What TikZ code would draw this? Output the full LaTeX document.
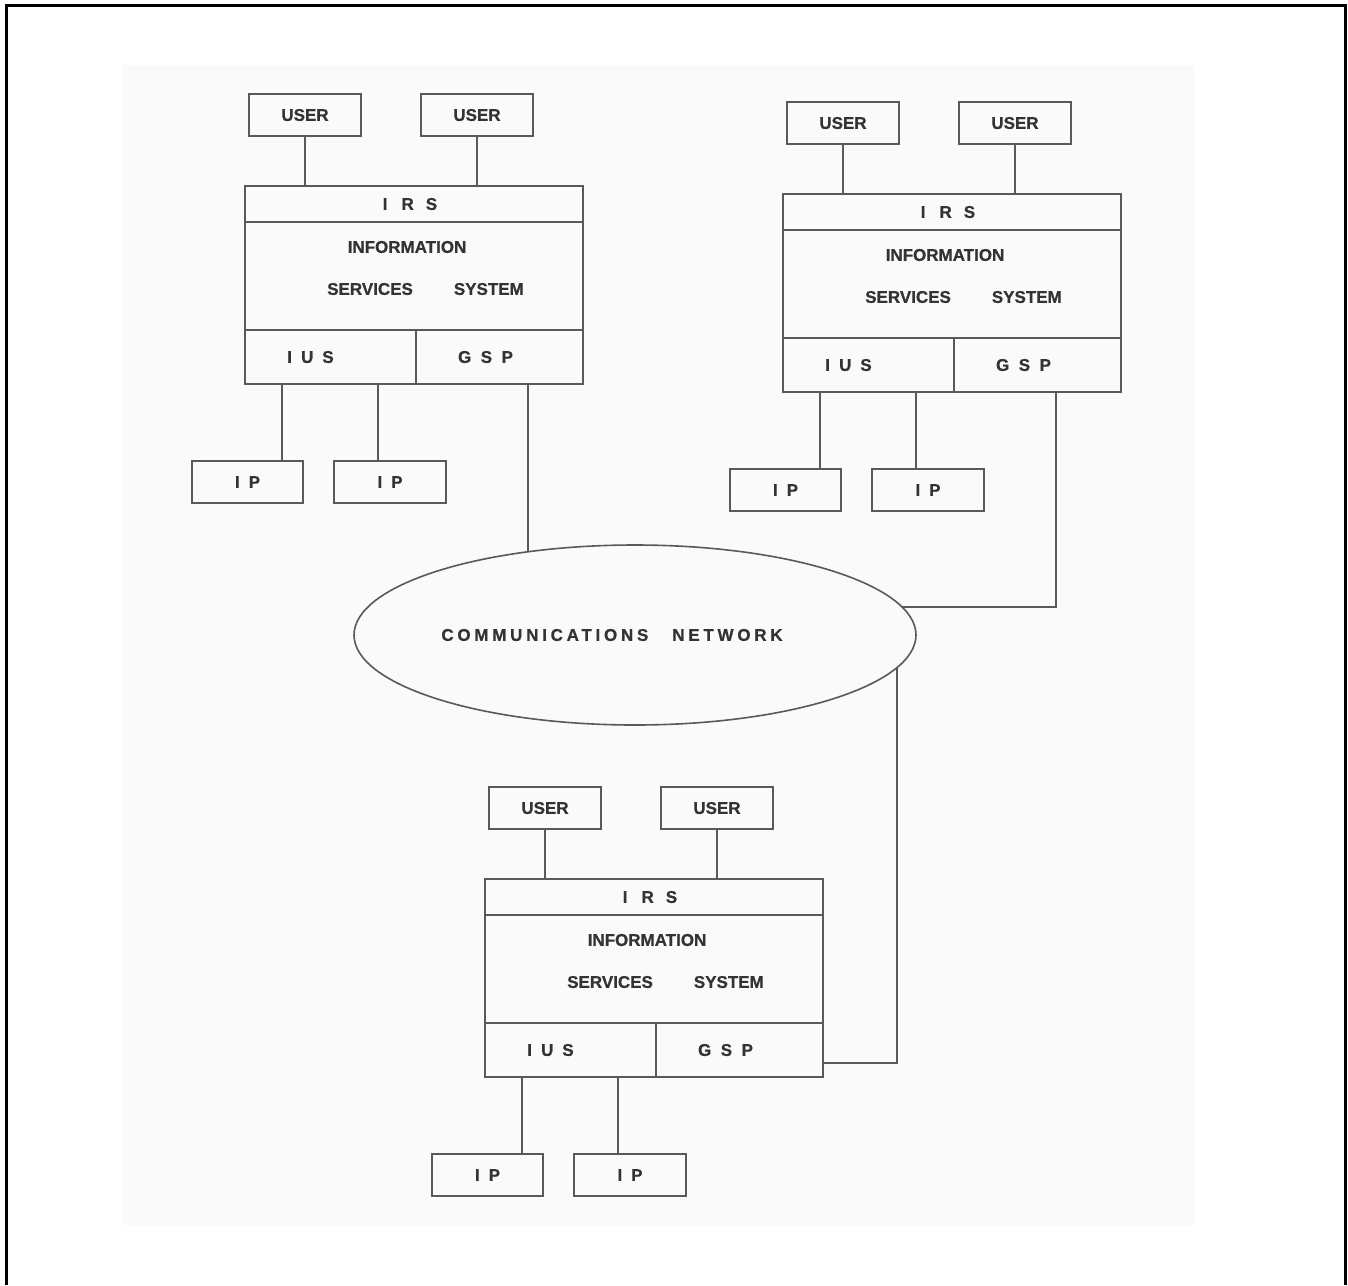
\documentclass[tikz,border=0pt]{standalone}
\usepackage{fontspec}
\setmainfont[FakeBold=0.6]{Liberation Sans}
\usetikzlibrary{shapes.geometric,calc}
\tikzset{
  ln/.style={draw=black!65, line width=1.6pt},
  wire/.style={ln},
  cell/.style={ln, rectangle, inner sep=0pt, outer sep=0pt, anchor=north west,
    text=black!80, font=\fontsize{17}{20}\selectfont\bfseries},
  txt/.style={inner sep=0pt, text=black!80, font=\fontsize{17}{42}\selectfont\bfseries, align=center},
  frame/.style={draw=black, line width=3pt},
  paper/.style={fill=black!2},
}
\newcommand\irsystem[3]{%
  \node[cell, minimum width=338pt, minimum height=36pt] (#1irs) at (#2,#3) {I\hspace{14pt}R\hspace{12pt}S\hspace*{8pt}};
  \node[cell, minimum width=338pt, minimum height=108pt] (#1info) at (#2,{#3+36}) {};
  \node[cell, minimum width=171pt, minimum height=54pt] (#1ius) at (#2,{#3+144}) {I\hspace{9pt}U\hspace{9pt}S\hspace*{40pt}};
  \node[cell, minimum width=167pt, minimum height=54pt] (#1gsp) at ({#2+171},{#3+144}) {G\hspace{9.5pt}S\hspace{9.5pt}P\hspace*{28pt}};
  \node[txt] (#1txt) at ($(#1info.center)+(0,-8)$) {INFORMATION\hspace*{14pt}\\\hspace*{23pt}SERVICES\hspace{41pt}SYSTEM};
  \node[cell, minimum width=112pt, minimum height=42pt] (#1u1) at ({#2+4},{#3-92}) {USER};
  \node[cell, minimum width=112pt, minimum height=42pt] (#1u2) at ({#2+176},{#3-92}) {USER};
  \node[cell, minimum width=111pt, minimum height=42pt] (#1p1) at ({#2-53},{#3+275}) {I\hspace{9pt}P};
  \node[cell, minimum width=112pt, minimum height=42pt] (#1p2) at ({#2+89},{#3+275}) {I\hspace{9pt}P};
  \draw[wire] (#1u1.south) -- (#1u1.south |- #1irs.north);
  \draw[wire] (#1u2.south) -- (#1u2.south |- #1irs.north);
  \coordinate (#1c1) at ([xshift=37pt]#1ius.south west);
  \coordinate (#1c2) at ([xshift=133pt]#1ius.south west);
  \draw[wire] (#1c1) -- (#1c1 |- #1p1.north);
  \draw[wire] (#1c2) -- (#1c2 |- #1p2.north);
}
\begin{document}
\begin{tikzpicture}[x=1pt,y=-1pt]
\useasboundingbox (0,0) rectangle (1348,1285);
\fill[paper] (122,65) rectangle (1195,1225);
\draw[frame] (6.5,1285) -- (6.5,5.5) -- (1345,5.5) -- (1345,1285);

\irsystem{A}{245}{186}
\irsystem{B}{783}{194}
\irsystem{C}{485}{879}

\node[ln, ellipse, minimum width=562pt, minimum height=180pt, inner sep=0pt, outer sep=0pt,
  label={[txt, xshift=-23pt]center:{\addfontfeature{LetterSpace=22}COMMUNICATIONS\hspace{24pt}NETWORK}}]
  (net) at (635,635) {};

\coordinate (Ac3) at ([xshift=112pt]Agsp.south west);
\draw[wire] (Ac3) -- (Ac3 |- net.142);
\coordinate (Bc3) at ([xshift=102pt]Bgsp.south west);
\draw[wire] (net.6) -| (Bc3);
\coordinate (Cc3) at ([yshift=-13pt]Cgsp.east);
\coordinate (Cc4) at ([xshift=74pt]Cc3);
\draw[wire] (Cc4 |- net.-7) |- (Cc3);
\end{tikzpicture}
\end{document}
